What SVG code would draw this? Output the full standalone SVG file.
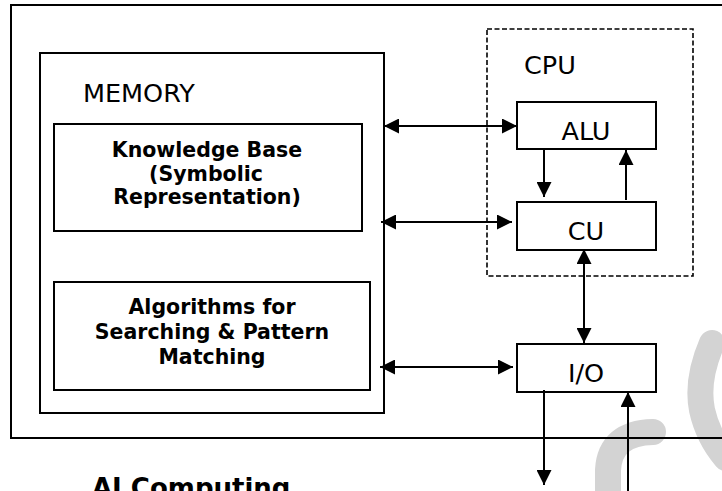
<svg xmlns="http://www.w3.org/2000/svg" width="722" height="491" viewBox="0 0 722 491">
  <style>
    .box { fill: #ffffff; stroke: #000000; stroke-width: 2; }
    .frame { fill: none; stroke: #000000; stroke-width: 2; }
    .dash { fill: none; stroke: #000000; stroke-width: 1.6; stroke-dasharray: 5 2.5; }
    .lbl { font-family: "DejaVu Sans", Verdana, sans-serif; font-size: 25.5px; fill: #000000; }
    .bold { font-family: "DejaVu Sans", Verdana, sans-serif; font-weight: bold; font-size: 20.5px; fill: #000000; text-anchor: middle; }
    .title { font-family: "DejaVu Sans", Verdana, sans-serif; font-weight: bold; font-size: 26px; fill: #000000; }
    .conn { stroke: #000000; stroke-width: 2; fill: none; }
    .wm { fill: none; stroke: #d3d3d3; stroke-width: 26; stroke-linecap: round; }
  </style>
  <defs>
    <marker id="ah" markerUnits="userSpaceOnUse" markerWidth="15" markerHeight="15" refX="15" refY="7.5" orient="auto-start-reverse">
      <path d="M0,0 L15,7.5 L0,15 z" fill="#000000"/>
    </marker>
  </defs>
  <rect width="722" height="491" fill="#ffffff"/>
  <g id="watermark">
    <path class="wm" d="M712,343 Q696,380 702,410 Q708,437 726,458"/>
    <path class="wm" d="M608,505 L608,470 Q610,433 653,432"/>
  </g>
  <g id="system">
    <rect class="frame" x="11" y="5" width="730" height="433"/>
  </g>
  <g id="memory">
    <rect class="box" x="40" y="53" width="344" height="360"/>
    <text class="lbl" x="83" y="102">MEMORY</text>
  </g>
  <g id="knowledge-base">
    <rect class="box" x="54" y="124" width="308" height="107"/>
    <text class="bold" x="207" y="157">Knowledge Base</text>
    <text class="bold" x="206" y="181">(Symbolic</text>
    <text class="bold" x="207" y="204">Representation)</text>
  </g>
  <g id="algorithms">
    <rect class="box" x="54" y="282" width="316" height="108"/>
    <text class="bold" x="212" y="314">Algorithms for</text>
    <text class="bold" x="212" y="339">Searching &amp; Pattern</text>
    <text class="bold" x="212" y="364">Matching</text>
  </g>
  <g id="cpu">
    <rect class="dash" x="487" y="29" width="206" height="247"/>
    <text class="lbl" x="524" y="74">CPU</text>
  </g>
  <g id="alu">
    <rect class="box" x="517" y="102" width="139" height="47"/>
    <text class="lbl" x="586" y="140" text-anchor="middle">ALU</text>
  </g>
  <g id="cu">
    <rect class="box" x="517" y="202" width="139" height="48"/>
    <text class="lbl" x="586" y="240" text-anchor="middle">CU</text>
  </g>
  <g id="io">
    <rect class="box" x="517" y="344" width="139" height="48"/>
    <text class="lbl" x="586" y="382" text-anchor="middle">I/O</text>
  </g>
  <g id="connectors">
    <line class="conn" x1="384" y1="126" x2="517" y2="126" marker-start="url(#ah)" marker-end="url(#ah)"/>
    <line class="conn" x1="381" y1="222" x2="512" y2="222" marker-start="url(#ah)" marker-end="url(#ah)"/>
    <line class="conn" x1="380" y1="367" x2="513" y2="367" marker-start="url(#ah)" marker-end="url(#ah)"/>
    <line class="conn" x1="544" y1="149" x2="544" y2="197" marker-end="url(#ah)"/>
    <line class="conn" x1="626" y1="200" x2="626" y2="150" marker-end="url(#ah)"/>
    <line class="conn" x1="584" y1="249" x2="584" y2="343" marker-start="url(#ah)" marker-end="url(#ah)"/>
    <line class="conn" x1="544" y1="390" x2="544" y2="485" marker-end="url(#ah)"/>
    <line class="conn" x1="628" y1="495" x2="628" y2="392" marker-end="url(#ah)"/>
  </g>
  <g id="caption">
    <text class="title" x="92" y="497">AI Computing</text>
  </g>
</svg>
